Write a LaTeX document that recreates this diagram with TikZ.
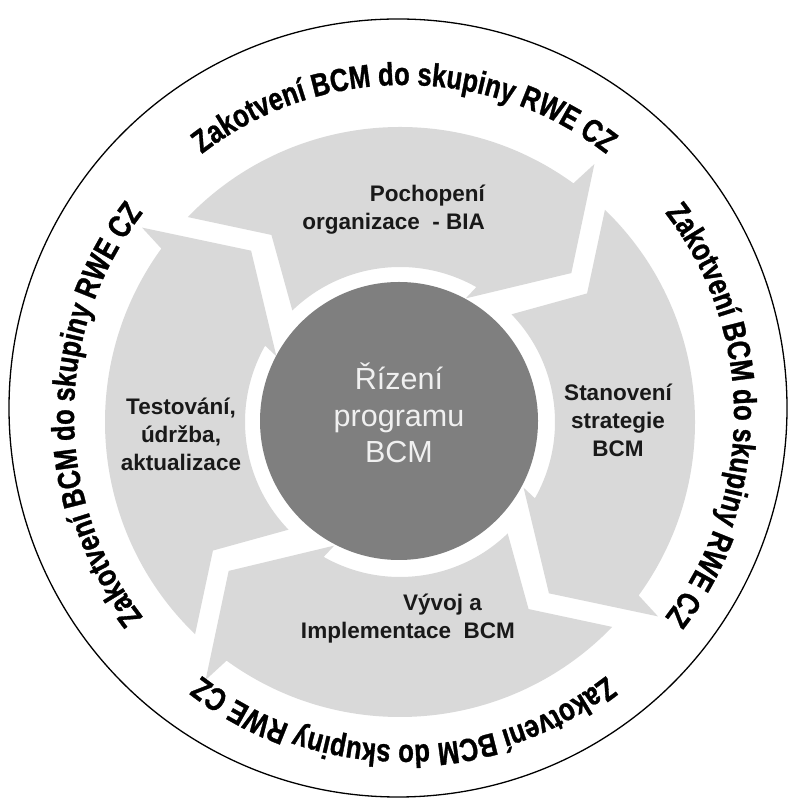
\documentclass[tikz,border=0pt]{standalone}
\usepackage{fontspec}
\setmainfont{Liberation Sans}
\newfontfamily\ringfont[FakeStretch=0.8,FakeBold=1]{Liberation Sans Bold}
\newcommand\ringfmt{\ringfont\fontsize{32}{32}\selectfont}
\usetikzlibrary{decorations.text}
\definecolor{ringgray}{RGB}{217,217,217}
\definecolor{hubgray}{RGB}{127,127,127}
\definecolor{hubink}{RGB}{240,240,240}
\definecolor{labelink}{RGB}{25,25,25}
\begin{document}
\begin{tikzpicture}[x=1pt,y=1pt,
  arrowshape/.style={fill=ringgray},
  steplabel/.style={font=\bfseries\fontsize{22.5}{28}\selectfont, text=labelink, inner sep=0pt},
  ringtext/.style={decorate, decoration={text along path, text align=center,
      text={|\ringfmt|Zakotvení BCM do skupiny RWE CZ}}}]
\useasboundingbox (0,0) rectangle (793,802);
\fill[white] (0,0) rectangle (793,802);
% outer border circle
\node[circle, draw=black, line width=1.3pt, minimum size=778pt, inner sep=0pt] (border) at (398,394) {};
% four curved chevron arrows
\begin{scope}[shift={(400,380)}]
\foreach \p in {45,-45,-135,135} {
  \fill[arrowshape] (\p+91:295pt) arc[start angle=\p+91, end angle=\p+9, radius=295pt]
    -- (\p+8:323pt) -- (\p-4:227pt) -- (\p+17:140pt) -- (\p+15.5:155pt)
    arc[start angle=\p+15.5, end angle=\p+89, radius=155pt]
    -- (\p+79.5:227pt) -- cycle;
}
\end{scope}
% hub
\node[circle, fill=hubgray, minimum size=278pt, inner sep=0pt] (hub) at (399,381) {};
\node[font=\fontsize{30.5}{36.5}\selectfont, text=hubink, align=center, inner sep=0pt] (hubtext) at (399,389) {Řízení\\programu\\BCM};
% step labels
\node[steplabel, align=right, anchor=east] (bia) at (485,592) {Pochopení\\organizace\ \ - BIA};
\node[steplabel, align=center] (strat) at (618,382) {Stanovení\\strategie\\BCM};
\node[steplabel, align=right, anchor=east] (impl) at (515,183) {Vývoj a\rule{33pt}{0pt}\\Implementace\ \ BCM};
\node[steplabel, align=center] (test) at (181,368) {Testování,\\údržba,\\aktualizace};
% ring texts
\begin{scope}[shift={(404,387)}]
\path[ringtext] (135:330pt) arc[start angle=135, end angle=45, radius=330pt];
\path[ringtext] (45:330pt) arc[start angle=45, end angle=-45, radius=330pt];
\path[ringtext] (-45:330pt) arc[start angle=-45, end angle=-135, radius=330pt];
\path[ringtext] (225:330pt) arc[start angle=225, end angle=135, radius=330pt];
\end{scope}
\end{tikzpicture}
\end{document}
